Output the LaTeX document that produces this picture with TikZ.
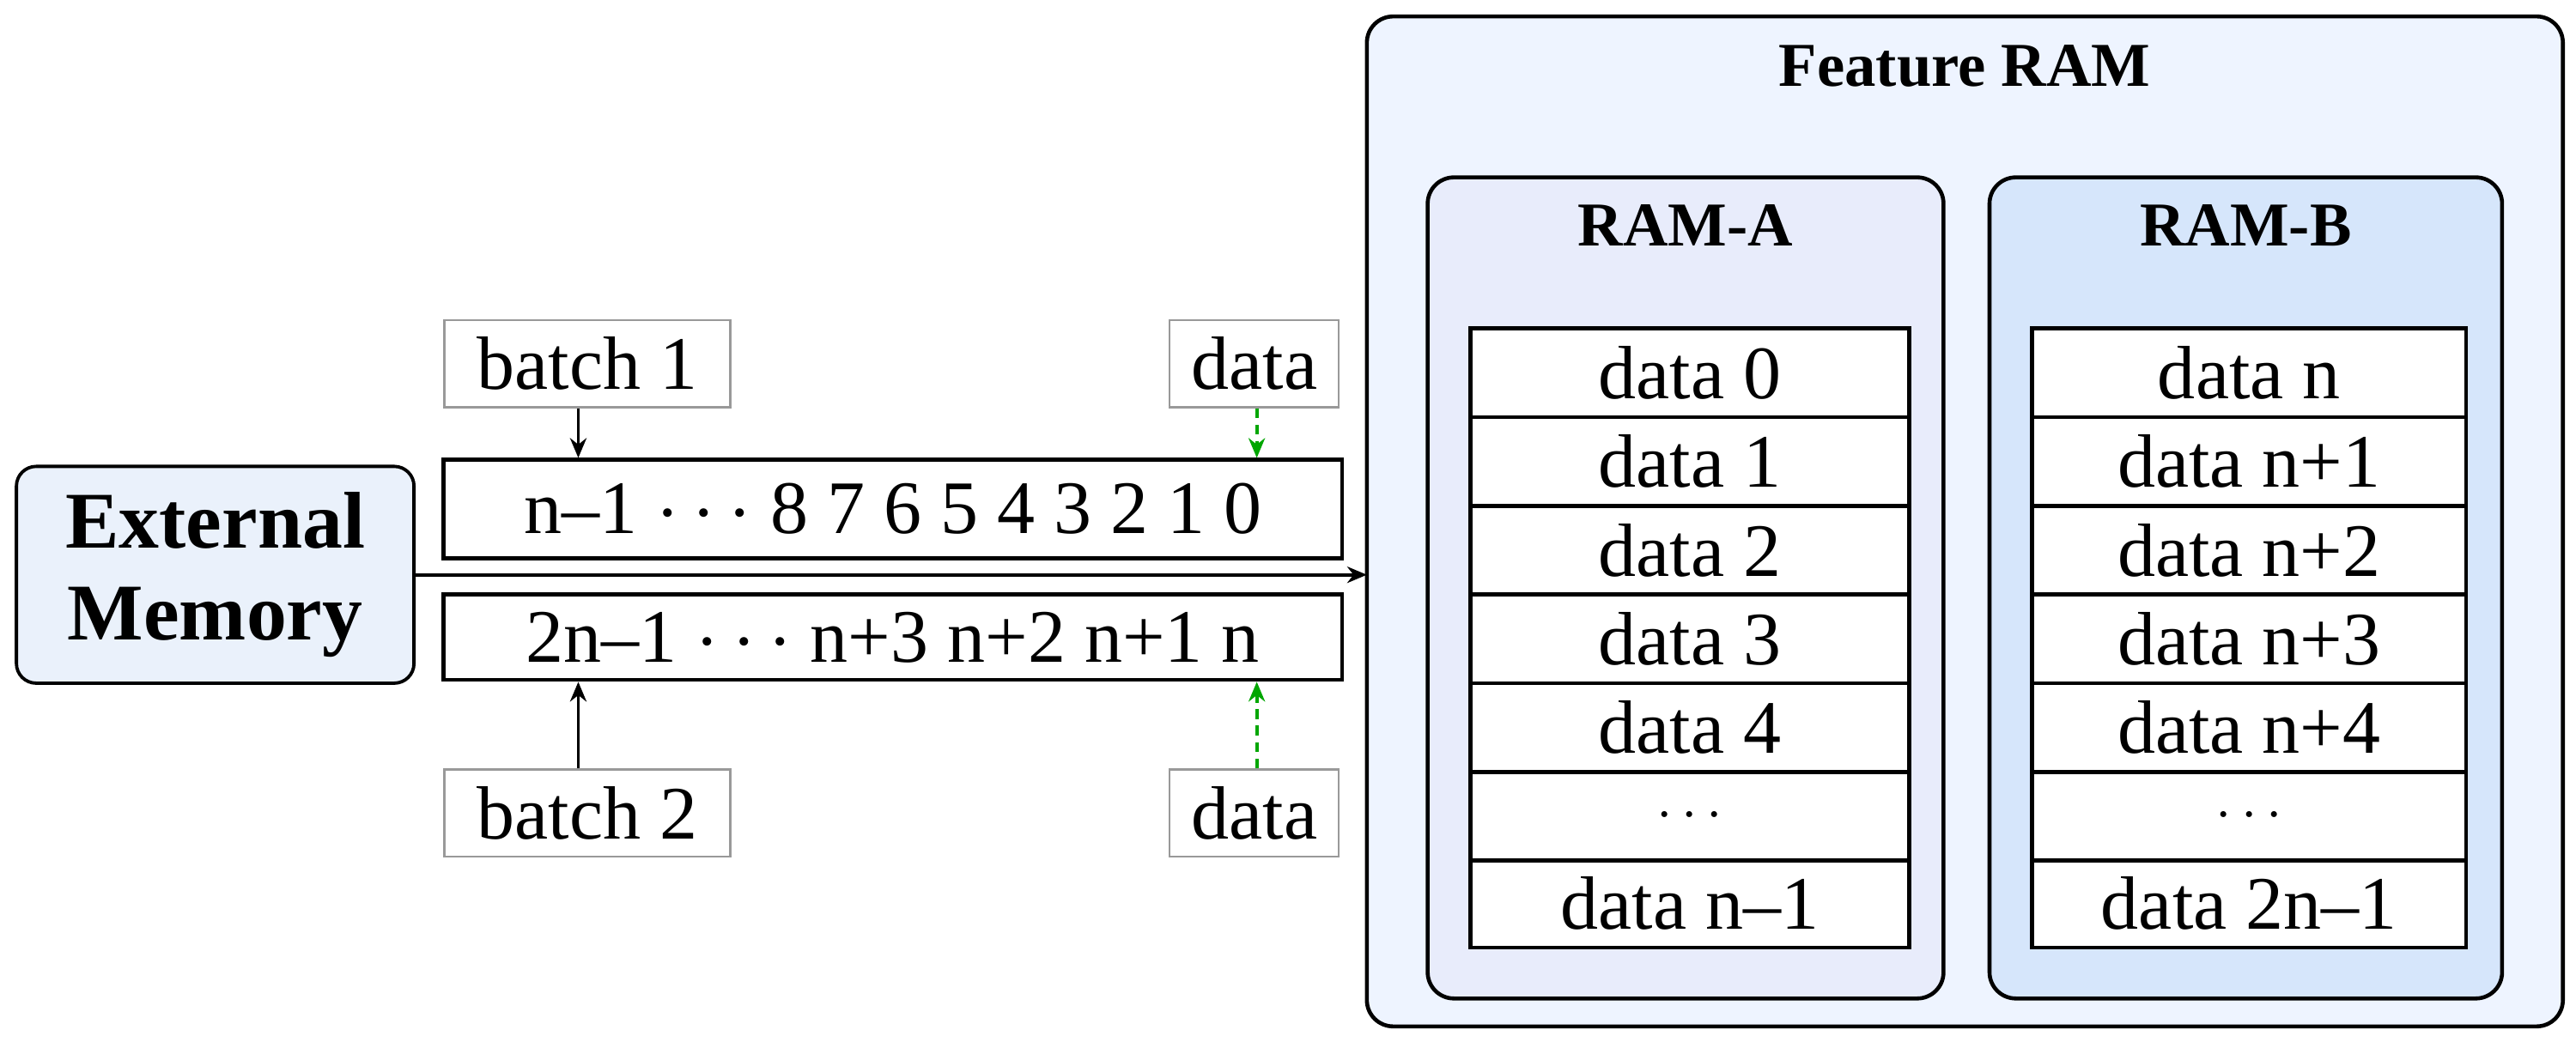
\documentclass[tikz,border=0pt]{standalone}
\usepackage{fontspec}
\setmainfont{Liberation Serif}
\usetikzlibrary{arrows.meta}
\begin{document}
\begin{tikzpicture}[x=0.5pt,y=-0.5pt,
  cell/.style={draw=black,line width=1.2pt,fill=white,inner sep=0pt,font=\fontsize{23}{25}\selectfont},
  lbl/.style={draw=gray!80,line width=0.6pt,fill=white,inner sep=0pt,minimum width=87pt,minimum height=26.5pt,font=\fontsize{23}{25}\selectfont},
  bar/.style={draw=black,line width=1.2pt,fill=white,inner sep=0pt,minimum width=273.5pt,font=\fontsize{23}{25}\selectfont},
  panel/.style={draw=black,line width=1.2pt,rounded corners=8pt},
  ttl/.style={font=\bfseries\fontsize{19}{21}\selectfont},
  arr/.style={-{Stealth[length=6pt,width=5pt]},line width=1pt},
  garr/.style={-{Stealth[length=6pt,width=5pt]},line width=1pt,dashed,draw=green!65!black,dash pattern=on 3pt off 2pt}]
\useasboundingbox (0,0) rectangle (1568,634);
% Feature RAM
\node[panel,fill={rgb,255:red,238;green,244;blue,255},minimum width=364pt,minimum height=307.5pt] (fr) at (1196,317.5) {};
\node[ttl] (frt) at (1196,40) {Feature RAM};
\node[panel,fill={rgb,255:red,232;green,236;blue,251},minimum width=157pt,minimum height=250pt] (ra) at (1026,358) {};
\node[panel,fill={rgb,255:red,214;green,230;blue,251},minimum width=156pt,minimum height=250pt] (rb) at (1367,358) {};
\node[ttl] (rat) at (1026,137) {RAM-A};
\node[ttl] (rbt) at (1367,137) {RAM-B};
\foreach \i/\y/\ta/\tb in {0/227/data 0/data n,1/281/data 1/data n+1,2/335/data 2/data n+2,3/389/data 3/data n+3,4/443/data 4/data n+4,6/550/data n–1/data 2n–1}{
  \node[cell,minimum width=133.5pt,minimum height=27pt] (a\i) at (1028.5,\y) {\ta};
  \node[cell,minimum width=132pt,minimum height=27pt] (b\i) at (1369,\y) {\tb};
}
\node[cell,minimum width=133.5pt,minimum height=27pt,font=\fontsize{18}{18}\selectfont] (a5) at (1028.5,497) {$\cdots$};
\node[cell,minimum width=132pt,minimum height=27pt,font=\fontsize{18}{18}\selectfont] (b5) at (1369,497) {$\cdots$};
% External memory
\node[draw=black,line width=1pt,rounded corners=6pt,fill={rgb,255:red,234;green,241;blue,251},minimum width=121pt,minimum height=66pt,align=center,font=\bfseries\fontsize{24.5}{28}\selectfont] (em) at (131,350) {External\\Memory};
% bars
\node[bar,minimum height=30pt] (top) at (543.5,310) {n–1 $\cdots$ 8 7 6 5 4 3 2 1 0};
\node[bar,minimum height=26pt] (bot) at (543.5,388) {2n–1 $\cdots$ n+3 n+2 n+1 n};
\coordinate (ein) at (832,350);
\draw[arr] (em.east |- ein) -- (ein);
% labels
\node[lbl] (b1) at (357.5,221.5) {batch 1};
\node[lbl] (b2) at (357.5,495) {batch 2};
\node[lbl,minimum width=51.5pt] (d1) at (763.5,221.5) {data};
\node[lbl,minimum width=51.5pt] (d2) at (763.5,495) {data};
\draw[arr] (b1.south -| 352,0) -- (top.north -| 352,0);
\draw[arr] (b2.north -| 352,0) -- (bot.south -| 352,0);
\draw[garr] (d1.south -| 765,0) -- (top.north -| 765,0);
\draw[garr] (d2.north -| 765,0) -- (bot.south -| 765,0);
\end{tikzpicture}
\end{document}
